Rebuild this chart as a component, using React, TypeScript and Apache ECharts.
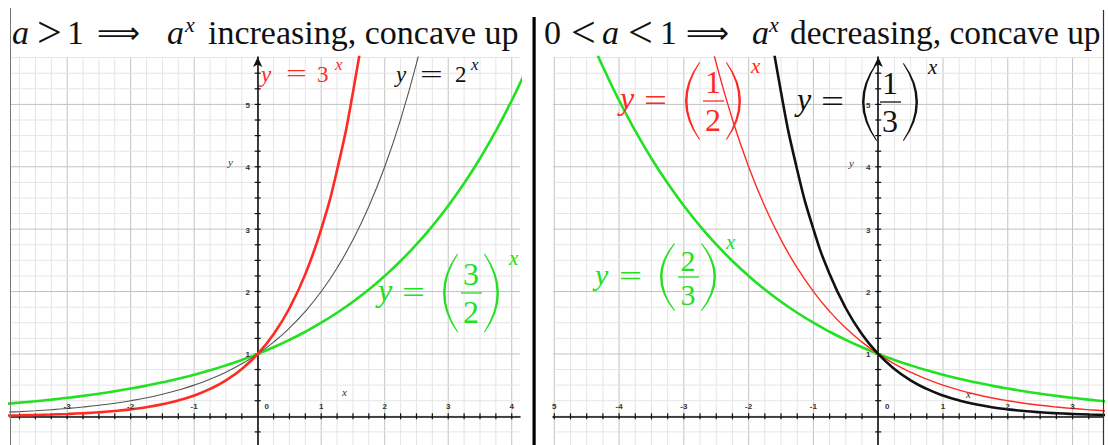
import React, { useEffect, useRef } from "react";
import * as echarts from "echarts";

// ---------- data ----------
const X_LEFT = [-4, -3.75, -3.5, -3.25, -3, -2.75, -2.5, -2.25, -2, -1.75, -1.5, -1.25, -1, -0.75, -0.5, -0.25, 0, 0.25, 0.5, 0.75, 1, 1.25, 1.5, 1.75, 2, 2.25, 2.5, 2.75, 3, 3.25, 3.5, 3.75, 4, 4.25];
const Y_POW3 = [0.0123, 0.0162, 0.0214, 0.0281, 0.037, 0.0488, 0.0642, 0.0844, 0.1111, 0.1462, 0.1925, 0.2533, 0.3333, 0.4387, 0.5774, 0.7598, 1, 1.3161, 1.7321, 2.2795, 3, 3.9482, 5.1962, 6.8385, 9, null, null, null, null, null, null, null, null, null];
const Y_POW2 = [0.0625, 0.0743, 0.0884, 0.1051, 0.125, 0.1487, 0.1768, 0.2102, 0.25, 0.2973, 0.3536, 0.4204, 0.5, 0.5946, 0.7071, 0.8409, 1, 1.1892, 1.4142, 1.6818, 2, 2.3784, 2.8284, 3.3636, 4, 4.7568, 5.6569, 6.7272, 8, null, null, null, null, null];
const Y_POW15 = [0.1975, 0.2186, 0.242, 0.2677, 0.2963, 0.3279, 0.3629, 0.4016, 0.4444, 0.4919, 0.5443, 0.6024, 0.6667, 0.7378, 0.8165, 0.9036, 1, 1.1067, 1.2247, 1.3554, 1.5, 1.66, 1.8371, 2.0331, 2.25, 2.49, 2.7557, 3.0497, 3.375, 3.735, 4.1335, 4.5746, 5.0625, 5.6025];

const X_RIGHT = [-5.25, -5, -4.75, -4.5, -4.25, -4, -3.75, -3.5, -3.25, -3, -2.75, -2.5, -2.25, -2, -1.75, -1.5, -1.25, -1, -0.75, -0.5, -0.25, 0, 0.25, 0.5, 0.75, 1, 1.25, 1.5, 1.75, 2, 2.25, 2.5, 2.75, 3, 3.25, 3.5, 3.75];
const Y_HALF = [null, null, null, null, null, null, null, null, null, null, 6.7272, 5.6569, 4.7568, 4, 3.3636, 2.8284, 2.3784, 2, 1.6818, 1.4142, 1.1892, 1, 0.8409, 0.7071, 0.5946, 0.5, 0.4204, 0.3536, 0.2973, 0.25, 0.2102, 0.1768, 0.1487, 0.125, 0.1051, 0.0884, 0.0743];
const Y_THIRD = [null, null, null, null, null, null, null, null, null, null, null, null, null, 9, 6.8385, 5.1962, 3.9482, 3, 2.2795, 1.7321, 1.3161, 1, 0.7598, 0.5774, 0.4387, 0.3333, 0.2533, 0.1925, 0.1462, 0.1111, 0.0844, 0.0642, 0.0488, 0.037, 0.0281, 0.0214, 0.0162];
const Y_TWOTHIRDS = [null, null, null, 6.2002, 5.6025, 5.0625, 4.5746, 4.1335, 3.735, 3.375, 3.0497, 2.7557, 2.49, 2.25, 2.0331, 1.8371, 1.66, 1.5, 1.3554, 1.2247, 1.1067, 1, 0.9036, 0.8165, 0.7378, 0.6667, 0.6024, 0.5443, 0.4919, 0.4444, 0.4016, 0.3629, 0.3279, 0.2963, 0.2677, 0.242, 0.2186];

const LEFT_X_TICK_VALUES = [-3, -2, -1, 0, 1, 2, 3, 4];
const LEFT_X_TICK_LABELS = ["-3", "-2", "-1", "0", "1", "2", "3", "4"];
const RIGHT_X_TICK_VALUES = [-5, -4, -3, -2, -1, 0, 1, 2, 3];
const RIGHT_X_TICK_LABELS = ["5", "-4", "-3", "-2", "-1", "0", "1", "2", "3"];
const Y_TICK_VALUES = [1, 2, 3, 4, 5];
const Y_TICK_LABELS = ["1", "2", "3", "4", "5"];

const LEFT_X_RANGE = [-3.9, 4.13];
const RIGHT_X_RANGE = [-5.02, 3.47];
const Y_RANGE = [-0.46, 5.76];
const MINOR_STEP = 0.25;

// ---------- shapes ----------
const LPAREN = "M20 0 Q-20 50 20 100 L21 99 Q-14 50 21 1 Z";
const RPAREN = "M1 0 Q41 50 1 100 L0 99 Q35 50 0 1 Z";
echarts.graphic.registerShape("lparen", echarts.graphic.extendPath(LPAREN, {}));
echarts.graphic.registerShape("rparen", echarts.graphic.extendPath(RPAREN, {}));

const SERIF = '"Liberation Serif", "DejaVu Serif", serif';
const RED = "#ff2a22";
const GREEN = "#22e022";
const INK = "#111111";

function steps(from: number, to: number, step: number): number[] {
  const out: number[] = [];
  const n0 = Math.ceil(from / step - 1e-9);
  const n1 = Math.floor(to / step + 1e-9);
  for (let n = n0; n <= n1; n++) out.push(+(n * step).toFixed(4));
  return out;
}

function gridLines(idx: number, vals: number[], dir: "v" | "h") {
  return {
    type: "custom",
    coordinateSystem: "cartesian2d",
    xAxisIndex: idx,
    yAxisIndex: idx,
    silent: true,
    z: 0,
    data: vals.map((v) => (dir === "v" ? [v, 0] : [0, v])),
    renderItem: (params: any, api: any) => {
      const cs = params.coordSys;
      const v = api.value(dir === "v" ? 0 : 1);
      const major = Math.abs(v - Math.round(v)) < 1e-6;
      const p = api.coord(dir === "v" ? [v, 0] : [0, v]);
      const shape =
        dir === "v"
          ? { x1: p[0], y1: cs.y, x2: p[0], y2: cs.y + cs.height }
          : { x1: cs.x, y1: p[1], x2: cs.x + cs.width, y2: p[1] };
      return { type: "line", shape, style: { stroke: major ? "#c2c2c2" : "#e5e5e5", lineWidth: 1 } };
    },
  };
}

function ticks(idx: number, vals: number[], dir: "x" | "y") {
  return {
    type: "custom",
    coordinateSystem: "cartesian2d",
    xAxisIndex: idx,
    yAxisIndex: idx,
    silent: true,
    z: 2,
    data: vals.filter((v) => v !== 0).map((v) => (dir === "x" ? [v, 0] : [0, v])),
    renderItem: (params: any, api: any) => {
      const p = api.coord([api.value(0), api.value(1)]);
      const shape =
        dir === "x"
          ? { x1: p[0], y1: p[1] - 3, x2: p[0], y2: p[1] + 3 }
          : { x1: p[0] - 3, y1: p[1], x2: p[0] + 3, y2: p[1] };
      return { type: "line", shape, style: { stroke: "#111", lineWidth: 1.2 } };
    },
  };
}

function tickLabels(idx: number, vals: number[], labels: string[], dir: "x" | "y") {
  return {
    type: "custom",
    coordinateSystem: "cartesian2d",
    xAxisIndex: idx,
    yAxisIndex: idx,
    silent: true,
    z: 4,
    data: vals.map((v) => (dir === "x" ? [v, 0] : [0, v])),
    renderItem: (params: any, api: any) => {
      const v = api.value(dir === "x" ? 0 : 1);
      const p = api.coord([api.value(0), api.value(1)]);
      const x = dir === "x" ? p[0] + (v === 0 ? 9 : 0) : p[0] - 10;
      const y = dir === "x" ? p[1] - 10 : p[1] + 1;
      return {
        type: "text",
        x,
        y,
        style: {
          text: labels[params.dataIndex],
          fill: "#333",
          font: 'bold 8px "Liberation Sans", Arial, sans-serif',
          align: "center",
          textAlign: "center",
          verticalAlign: "middle",
          textVerticalAlign: "middle",
        },
      };
    },
  };
}

function curve(idx: number, xs: number[], ys: (number | null)[], color: string, width: number) {
  return {
    type: "line",
    xAxisIndex: idx,
    yAxisIndex: idx,
    data: xs.map((x, i) => [x, ys[i]]).filter((p) => p[1] != null),
    showSymbol: false,
    symbol: "none",
    smooth: 0.5,
    silent: true,
    z: 3,
    lineStyle: { color, width },
  };
}

function txt(text: string, x: number, y: number, size: number, color: string, o: any = {}) {
  const align = o.align || "left";
  return {
    type: "text",
    x,
    y,
    scaleX: o.scaleX || 1,
    silent: true,
    z: 10,
    style: {
      text,
      fill: color,
      font: `${o.italic ? "italic " : ""}${size}px ${o.family || SERIF}`,
      align,
      textAlign: align,
      verticalAlign: "middle",
      textVerticalAlign: "middle",
    },
  };
}

function fracLabel(x0: number, yc: number, color: string, num: string, den: string, ph: number, fs: number, dy: number) {
  return [
    txt("y", x0, yc - 3, fs, color, { italic: true }),
    txt("=", x0 + 24, yc - 1, fs, color, { scaleX: 23 / (fs * 0.564) }),
    { type: "lparen", x: x0 + 65, y: yc - ph / 2, scaleX: 15 / 21, scaleY: ph / 100, style: { fill: color }, silent: true, z: 10 },
    txt(num, x0 + 93, yc - dy, fs, color, { align: "center" }),
    { type: "line", shape: { x1: x0 + 83, y1: yc, x2: x0 + 104, y2: yc }, style: { stroke: color, lineWidth: 1.3 }, silent: true, z: 10 },
    txt(den, x0 + 93, yc + dy, fs, color, { align: "center" }),
    { type: "rparen", x: x0 + 106, y: yc - ph / 2, scaleX: 15 / 21, scaleY: ph / 100, style: { fill: color }, silent: true, z: 10 },
    txt("x", x0 + 131, yc - 35, 21, color, { italic: true }),
  ];
}

function buildOption() {
  const yAxisBase = {
    type: "value",
    min: Y_RANGE[0],
    max: Y_RANGE[1],
    axisLabel: { show: false },
    axisTick: { show: false },
    splitLine: { show: false },
    z: 1,
    axisLine: { show: true, onZero: true, symbol: ["none", "arrow"], symbolSize: [7, 10], lineStyle: { color: "#111", width: 1.6 } },
  };
  const xAxisBase = {
    type: "value",
    axisLabel: { show: false },
    axisTick: { show: false },
    splitLine: { show: false },
    z: 1,
    axisLine: { show: true, onZero: true, lineStyle: { color: "#111", width: 1.6 } },
  };
  const yGrid = steps(Y_RANGE[0], Y_RANGE[1], MINOR_STEP);
  const yTickVals = steps(Y_RANGE[0], 5.5, MINOR_STEP);

  const graphicEls: any[] = [
    // frame lines
    { type: "line", shape: { x1: 10.5, y1: 8, x2: 10.5, y2: 445 }, style: { stroke: "#777", lineWidth: 1 }, silent: true, z: 9 },
    { type: "line", shape: { x1: 1103.5, y1: 10, x2: 1103.5, y2: 445 }, style: { stroke: "#333", lineWidth: 1.2 }, silent: true, z: 9 },
    { type: "rect", shape: { x: 532.5, y: 17, width: 3.2, height: 428 }, style: { fill: "#000" }, silent: true, z: 9 },
    // left title
    txt("a", 12, 32, 34, INK, { italic: true }),
    txt(">", 37, 32, 44, INK),
    txt("1", 67, 32, 34, INK),
    txt("⟹", 97, 32, 30, INK, { family: '"DejaVu Sans", sans-serif' }),
    txt("a", 167, 32, 34, INK, { italic: true }),
    txt("x", 185, 24, 22, INK, { italic: true }),
    txt("increasing, concave up", 208, 32, 34, INK),
    // right title
    txt("0", 544, 32, 34, INK),
    txt("<", 571, 32, 44, INK),
    txt("a", 602, 32, 34, INK, { italic: true }),
    txt("<", 628, 32, 44, INK),
    txt("1", 660, 32, 34, INK),
    txt("⟹", 686, 32, 30, INK, { family: '"DejaVu Sans", sans-serif' }),
    txt("a", 752, 32, 34, INK, { italic: true }),
    txt("x", 769, 24, 22, INK, { italic: true }),
    txt("decreasing, concave up", 790, 32, 33.4, INK),
    // left curve labels
    txt("y", 261, 74, 23, RED, { italic: true }),
    txt("=", 286, 74, 23, RED, { scaleX: 1.6 }),
    txt("3", 317, 74, 23, RED),
    txt("x", 335, 64, 17, RED, { italic: true }),
    txt("y", 396, 74, 23, INK, { italic: true }),
    txt("=", 420, 74, 23, INK, { scaleX: 1.75 }),
    txt("2", 455, 74, 23, INK),
    txt("x", 471, 64, 17, INK, { italic: true }),
    ...fracLabel(378, 293, GREEN, "3", "2", 79, 32, 19),
    // right curve labels
    ...fracLabel(620, 101, RED, "1", "2", 78, 32, 19),
    ...fracLabel(797, 102, INK, "1", "3", 78, 32, 19),
    ...fracLabel(595, 277, GREEN, "2", "3", 68, 30, 17),
    // axis names
    txt("y", 228, 162, 11, "#333", { italic: true }),
    txt("x", 342, 392, 11, "#333", { italic: true }),
    txt("y", 849, 163, 11, "#333", { italic: true }),
    txt("x", 966, 394, 11, "#333", { italic: true }),
  ];

  return {
    animation: false,
    backgroundColor: "#ffffff",
    grid: [
      { left: 10, top: 57, width: 510, height: 388 },
      { left: 553, top: 57, width: 550, height: 388 },
    ],
    xAxis: [
      { ...xAxisBase, gridIndex: 0, min: LEFT_X_RANGE[0], max: LEFT_X_RANGE[1] },
      { ...xAxisBase, gridIndex: 1, min: RIGHT_X_RANGE[0], max: RIGHT_X_RANGE[1] },
    ],
    yAxis: [
      { ...yAxisBase, gridIndex: 0 },
      { ...yAxisBase, gridIndex: 1 },
    ],
    series: [
      gridLines(0, steps(LEFT_X_RANGE[0], LEFT_X_RANGE[1], MINOR_STEP), "v"),
      gridLines(0, yGrid, "h"),
      gridLines(1, steps(RIGHT_X_RANGE[0], RIGHT_X_RANGE[1], MINOR_STEP), "v"),
      gridLines(1, yGrid, "h"),
      ticks(0, steps(LEFT_X_RANGE[0], LEFT_X_RANGE[1], MINOR_STEP), "x"),
      ticks(0, yTickVals, "y"),
      ticks(1, steps(RIGHT_X_RANGE[0], RIGHT_X_RANGE[1], MINOR_STEP), "x"),
      ticks(1, yTickVals, "y"),
      tickLabels(0, LEFT_X_TICK_VALUES, LEFT_X_TICK_LABELS, "x"),
      tickLabels(0, Y_TICK_VALUES, Y_TICK_LABELS, "y"),
      tickLabels(1, RIGHT_X_TICK_VALUES, RIGHT_X_TICK_LABELS, "x"),
      tickLabels(1, Y_TICK_VALUES, Y_TICK_LABELS, "y"),
      curve(0, X_LEFT, Y_POW15, GREEN, 2.6),
      curve(0, X_LEFT, Y_POW2, "#555555", 1.1),
      curve(0, X_LEFT, Y_POW3, RED, 2.6),
      curve(1, X_RIGHT, Y_TWOTHIRDS, GREEN, 2.6),
      curve(1, X_RIGHT, Y_HALF, RED, 1.4),
      curve(1, X_RIGHT, Y_THIRD, INK, 2.6),
    ],
    graphic: { elements: graphicEls },
  };
}

export default function App() {
  const ref = useRef<HTMLDivElement>(null);
  useEffect(() => {
    document.body.style.margin = "0";
    if (!ref.current) return;
    const chart = echarts.init(ref.current, undefined, { renderer: "svg" });
    chart.setOption(buildOption() as any);
    return () => chart.dispose();
  }, []);
  return <div ref={ref} style={{ position: "absolute", left: 0, top: 0, width: 1108, height: 445, background: "#fff" }} />;
}
